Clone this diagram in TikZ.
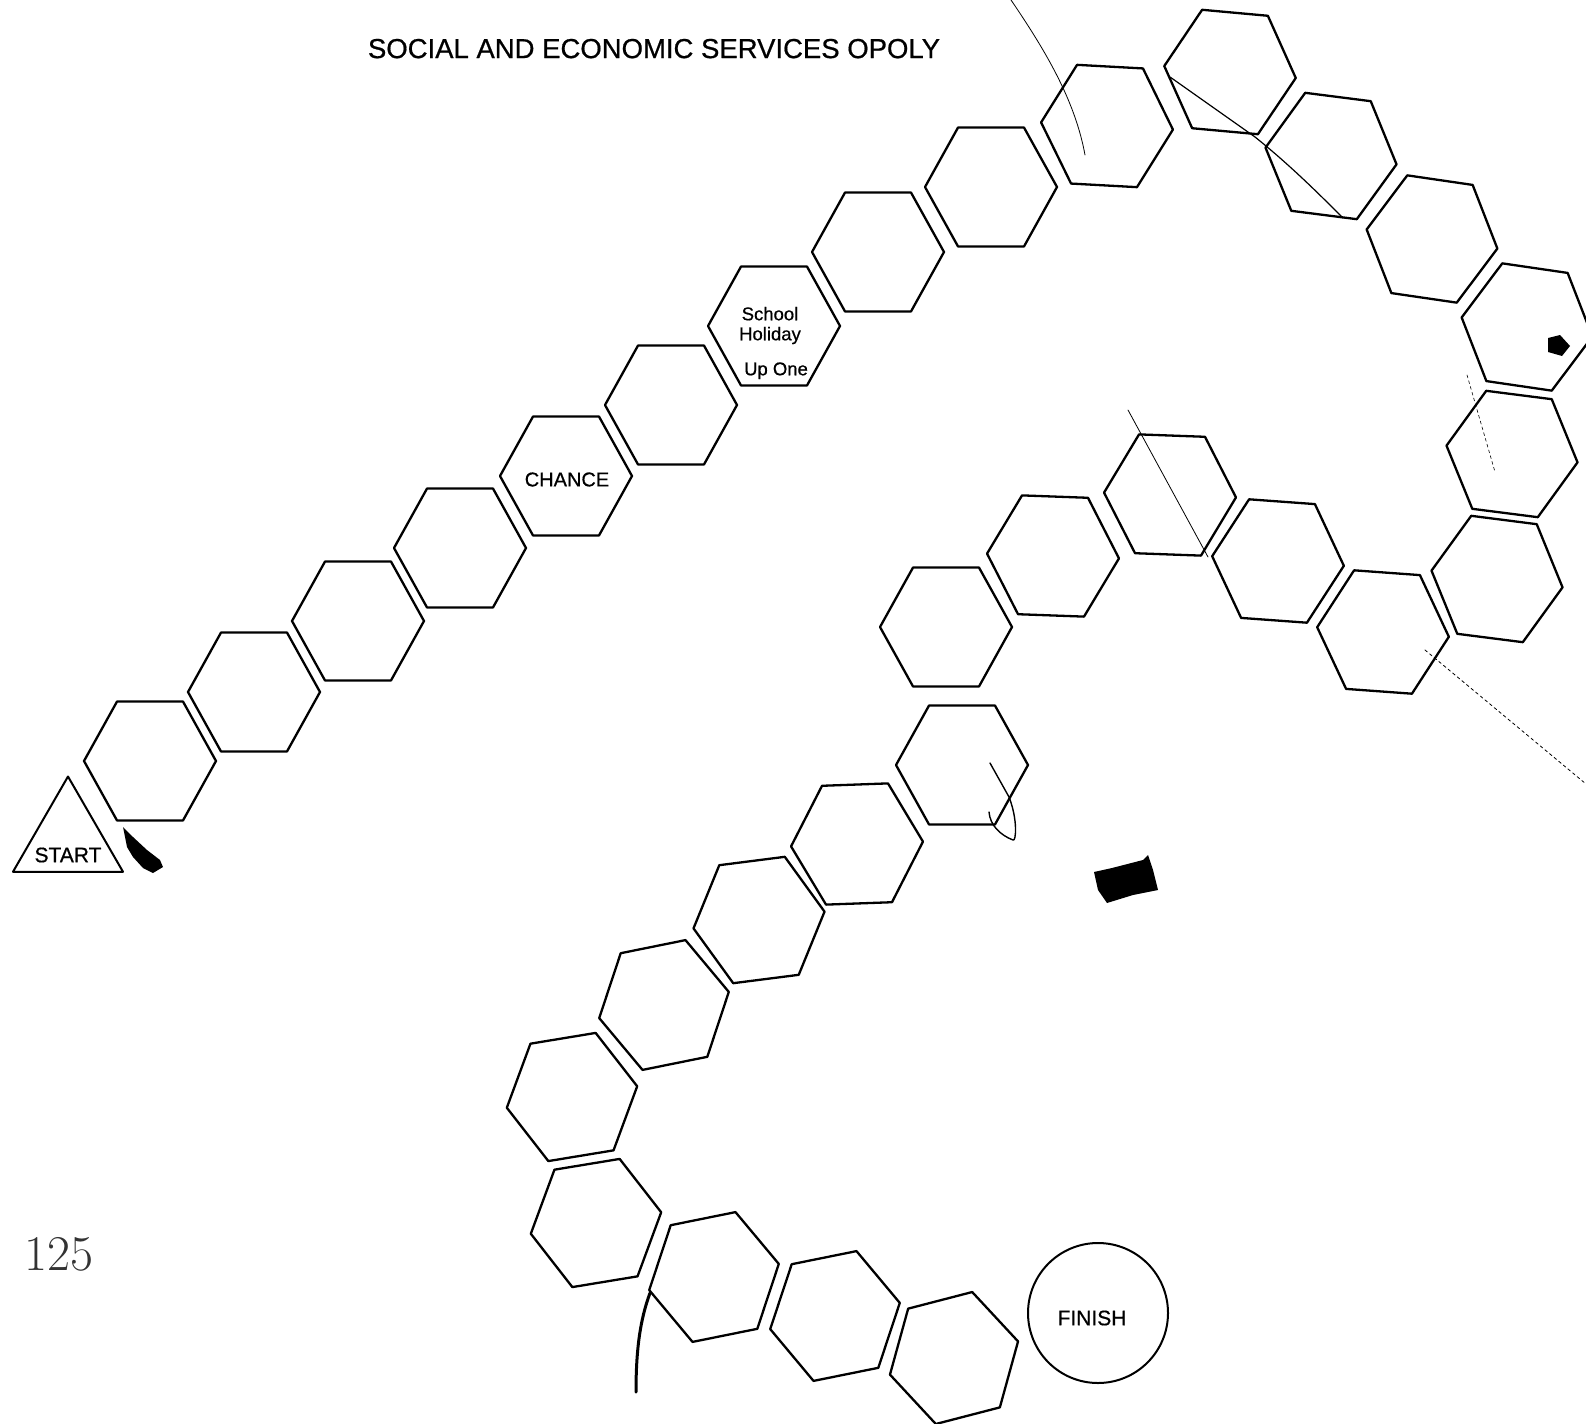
\documentclass[tikz,border=0pt]{standalone}
\usepackage{fontspec}
\setsansfont{Liberation Sans}
\newfontfamily\boardfont{Liberation Sans}[FakeBold=0.6]
\usetikzlibrary{shapes.geometric}
\begin{document}
\begin{tikzpicture}[x=1pt, y=-1pt, line join=round, line cap=round,
	hexcell/.style={regular polygon, regular polygon sides=6, draw, line width=2.3pt, minimum size=132pt, inner sep=0pt, yscale=1.04},
	celltext/.style={font=\boardfont\fontsize{20}{22}\selectfont},
	scanline/.style={line width=0.8pt}]
	\useasboundingbox (0,0) rectangle (1586,1423);
	\node[font=\boardfont\fontsize{27.5}{30}\selectfont] (title) at (654,48.6) {SOCIAL AND ECONOMIC SERVICES OPOLY};
	% board track, start to finish
	\foreach \px/\py/\rot [count=\i] in {
		150/761/0, 254/692/0, 358/621/0, 460/548/0, 566/476/0, 671/405/0, 774/326/0,
		878/252/0, 991/187/0, 1107/126/3, 1230/72/5, 1331/156/7, 1432/239/8, 1527/327/8,
		1512/454/7, 1497/579/7, 1383/632/4, 1278/561/4, 1170/495/2, 1053/556/2, 946/627/0,
		962/765/0, 857/844/-2, 759/920/-7, 664/1005/-11, 572/1097/-9, 596/1223/-9,
		714/1277/-11, 835/1316/-11, 954/1358/-14}
		\node[hexcell, rotate=-\rot] (h\i) at (\px,\py) {};
	\node[celltext] (chance) at (567,479.5) {CHANCE};
	\node[font=\boardfont\fontsize{18.5}{20}\selectfont, align=center] (holiday) at (770,343) {School\\Holiday\\[15pt]\hspace*{12pt}Up One};
	\node[regular polygon, regular polygon sides=3, draw, line width=2pt, minimum size=127pt, inner sep=0pt] (start) at (68,840) {};
	\node[celltext, font=\boardfont\fontsize{21}{22}\selectfont] (starttext) at (68,855) {START};
	\node[circle, draw, line width=2pt, minimum size=140pt, inner sep=0pt] (finish) at (1098,1313) {};
	\node[celltext, font=\boardfont\fontsize{21}{22}\selectfont] (finishtext) at (1092,1318) {FINISH};
	\node[font=\fontsize{50}{52}\selectfont, text=black!80] (page) at (59,1254) {125};
	% stray strokes of the scan
	\draw[scanline] (1011,0) .. controls (1045,50) and (1075,100) .. (1085,155);
	\draw[scanline, line width=1.2pt] (1170,77) -- (1255,137) .. controls (1290,165) and (1320,195) .. (1343,218);
	\draw[scanline] (1128,410) -- (1208,557);
	\draw[scanline, dashed, line width=0.6pt] (1467,375) -- (1495,472);
	\draw[scanline, dashed] (1425,650) -- (1586,784);
	\draw[scanline, line width=1.4pt] (990,763) -- (1009,797) .. controls (1018,820) and (1016,842) .. (1013,840) .. controls (1000,835) and (990,825) .. (989,812);
	\draw[line width=3pt] (650,1293) .. controls (640,1320) and (636,1350) .. (636,1392);
	\fill (1094,872) -- (1112,868) -- (1143,860) -- (1148,855) -- (1153,870) -- (1158,890) -- (1133,895) -- (1107,903) -- (1098,890) -- cycle;
	\fill (123,827) -- (133,837) -- (147,850) -- (160,860) -- (163,867) -- (153,873) -- (143,868) -- (133,857) -- (127,847) -- (125,837) -- cycle;
	\fill (1548,338) -- (1560,335) -- (1570,346) -- (1562,356) -- (1548,352) -- cycle;
\end{tikzpicture}
\end{document}
